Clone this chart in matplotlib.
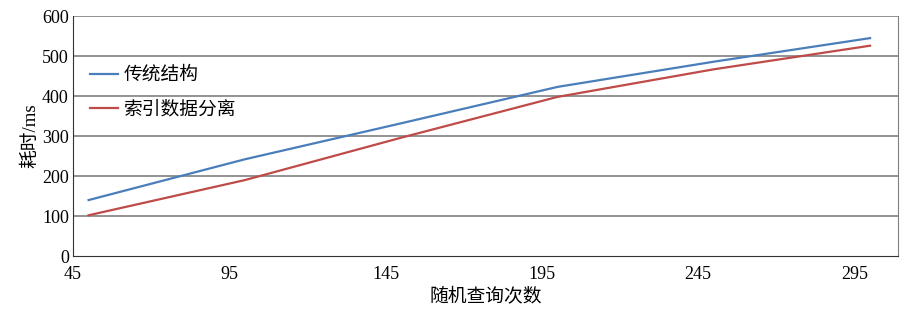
import matplotlib
matplotlib.use('Agg')
import matplotlib.pyplot as plt

plt.rcParams['font.family'] = ['Liberation Serif', 'Noto Sans CJK SC', 'DejaVu Sans']

# 随机查询次数
queries = [50, 100, 150, 200, 250, 300]
# 耗时 (ms)
traditional = [140, 242, 332, 423, 486, 545]
separated = [102, 190, 296, 398, 467, 526]

x_ticks = [45, 95, 145, 195, 245, 295]
y_ticks = [0, 100, 200, 300, 400, 500, 600]


def main():
    fig = plt.figure(figsize=(9.2, 3.1), dpi=100)
    ax = fig.add_axes([0.0793, 0.174, 0.897, 0.774])

    for y in y_ticks[1:]:
        ax.axhline(y, color='#808080', lw=1.2, zorder=1)

    ax.plot(queries, traditional, color='#4A7EBB', lw=1.6, label='传统结构', zorder=3)
    ax.plot(queries, separated, color='#BE4B48', lw=1.6, label='索引数据分离', zorder=3)

    ax.set_xlim(45, 309)
    ax.set_ylim(0, 600)
    ax.set_xticks(x_ticks)
    ax.set_yticks(y_ticks)
    ax.tick_params(axis='y', length=0, labelsize=13, pad=3)
    ax.tick_params(axis='x', length=0, labelsize=13, pad=7)

    ax.spines['top'].set_visible(False)
    ax.spines['right'].set_color('#808080')
    ax.spines['left'].set_color('#333333')
    ax.spines['bottom'].set_color('#333333')

    ax.set_xlabel('随机查询次数', fontsize=13.5, labelpad=3)
    ax.set_ylabel('耗时/ms', fontsize=13.5, labelpad=2)

    ax.legend(loc='upper left', bbox_to_anchor=(0.0, 0.86), frameon=False,
              fontsize=13.5, handlelength=1.5, handletextpad=0.3, labelspacing=0.9)

    fig.savefig('out.png', dpi=100)


if __name__ == '__main__':
    main()
